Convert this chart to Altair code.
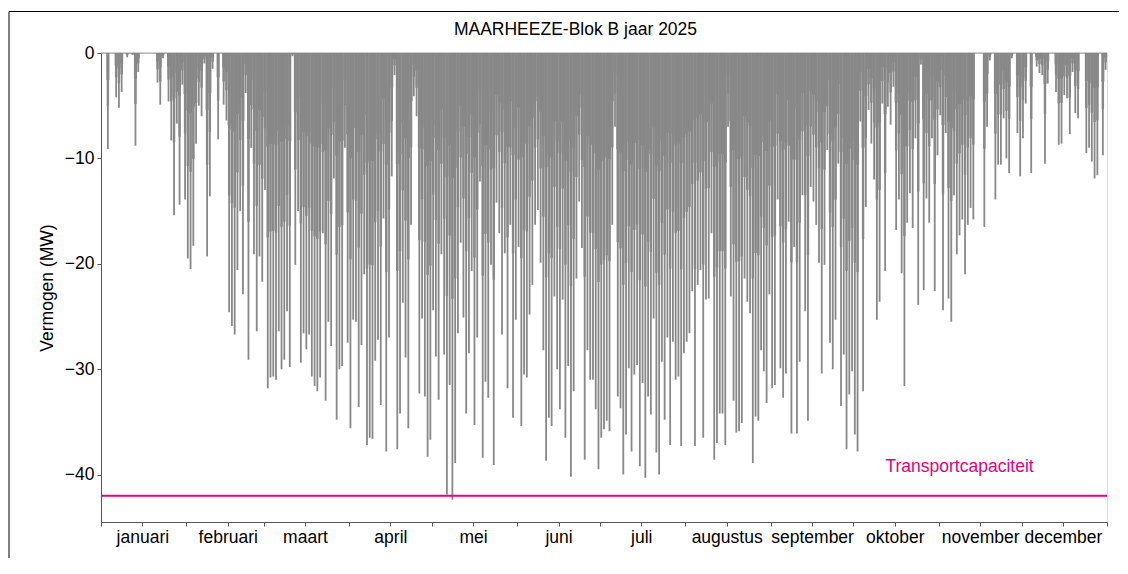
import altair as alt
import pandas as pd

# Daily deepest power value (MW), per month
jan = [0, 0, -9.1, 0, 0, -4.2, -5.2, -3.7, 0, -0.4, 0, -0.2, -8.8, -1.8, 0, 0, 0, 0, 0, 0,
       -2.8, -4.9, -0.5, 0, -4.6, -8.3, -15.4, -6.7, -14.4, -3.0, -13.9]
feb = [-19.5, -20.5, -18.3, -8.6, -5.0, -6.0, -1.0, -19.3, -13.6, -1.5, 0, -8.2, 0, -4.9,
       -6.4, -24.6, -25.9, -26.7, -20.6, -15.0, -22.9, -3.8, -29.1, -9.0, -19.1, -26.4, -19.3, -21.7]
mar = [-13.0, -31.8, -30.8, -30.7, -31.0, -26.4, -30.0, -29.1, -24.5, -29.8, -0.3, -20.1,
       -15.0, -29.4, -26.6, -28.1, -26.7, -30.7, -31.6, -32.1, -30.8, -17.1, -33.0, -25.5,
       -27.8, -11.9, -34.8, -30.0, -29.7, -9.0, -27.5]
apr = [-35.6, -25.3, -25.5, -33.6, -27.7, -21.0, -37.2, -36.5, -36.6, -29.2, -27.2, -33.4,
       -15.7, -37.8, -27.0, -11.7, -2.1, -37.6, -34.2, -23.7, -28.9, -35.6, -16.3, -4.1,
       -6.0, -32.3, -25.2, -32.6, -38.3, -36.7]
may = [-24.4, -28.8, -32.9, -19.1, -28.6, -41.9, -31.5, -42.4, -38.9, -26.6, -18.0, -25.1,
       -34.2, -28.5, -20.7, -35.3, -27.0, -12.2, -38.4, -31.2, -32.7, -20.1, -39.1, -14.2,
       -17.1, -26.7, -19.0, -31.8, -16.3, -34.6, -25.3]
jun = [-18.4, -35.4, -30.5, -30.8, -24.8, -22.0, -16.3, -14.9, -19.9, -28.2, -38.7, -34.6,
       -35.4, -23.1, -30.0, -33.8, -23.4, -36.5, -29.7, -40.2, -32.1, -21.4, -14.1, -18.5,
       -38.6, -28.2, -31.0, -31.0, -33.8, -39.5]
jul = [-36.5, -35.7, -34.9, -35.9, -16.3, -7.0, -32.6, -33.7, -40.0, -36.2, -29.9, -37.8,
       -30.5, -29.6, -39.2, -31.3, -40.3, -32.6, -34.3, -25.2, -37.9, -40.0, -29.3, -34.8,
       -27.0, -37.2, -27.4, -31.0, -30.7, -37.3, -28.5]
aug = [-27.4, -26.6, -22.6, -37.3, -22.0, -20.6, -36.5, -23.4, -23.3, -17.1, -38.6, -37.0,
       -34.2, -34.2, -37.2, -7.0, -23.1, -33.0, -36.0, -35.9, -35.1, -21.4, -23.6, -24.7,
       -38.9, -34.5, -34.9, -28.2, -30.2, -33.2, -22.9]
sep = [-31.8, -31.5, -13.9, -29.9, -32.7, -30.4, -16.0, -36.1, -18.4, -36.1, -29.3, -13.5,
       -24.5, -34.9, -12.7, -14.1, -16.3, -19.9, -30.4, -20.1, -9.2, -27.5, -30.0, -25.3,
       -10.5, -33.5, -28.6, -37.6, -32.4, -30.2]
okt = [-36.2, -37.8, -6.5, -32.1, -14.6, -5.4, -8.6, -12.0, -25.3, -23.6, -4.8, -20.7,
       -5.1, -6.8, -3.2, -16.8, -13.9, -20.9, -31.6, -16.1, -13.3, -16.6, -8.1, -23.9,
       -1.1, -22.5, -13.8, -16.1, -8.1, -22.6, -9.7]
nov = [-5.9, -24.4, -7.6, -23.3, -25.5, -13.5, -19.1, -17.3, -15.8, -21.0, -16.3, -14.7,
       -15.8, 0, 0, 0, -16.5, -7.0, -0.7, 0, -13.9, -10.6, -10.6, -6.2, -10.0, -11.4,
       -0.5, 0, -7.6, -11.7]
dec = [-8.1, -4.8, 0, -11.4, 0, -1.3, -1.9, -2.1, -10.5, -2.9, 0, 0, -3.7, -8.7, -8.6,
       -4.0, -4.3, -7.7, -1.8, -5.7, -6.2, 0, 0, -9.5, -9.0, -10.3, -11.9, -11.6, 0, -9.7, -1.6]

month_names = ["januari", "februari", "maart", "april", "mei", "juni", "juli",
               "augustus", "september", "oktober", "november", "december"]
capacity = -42.0
title_text = "MAARHEEZE-Blok B jaar 2025"
capacity_label = "Transportcapaciteit"

months = [jan, feb, mar, apr, may, jun, jul, aug, sep, okt, nov, dec]
values = [v for m in months for v in m]
df = pd.DataFrame({"day": [i + 0.5 for i in range(len(values))], "mw": values})

starts = []
s = 0
for m in months:
    starts.append(s)
    s += len(m)
n_days = s
mids = [st + 15 for st in starts]
tick_values = sorted(starts + [n_days] + mids)

mid_js = "[" + ",".join(str(m) for m in mids) + "]"
names_js = "[" + ",".join("'" + n + "'" for n in month_names) + "]"
label_expr = f"indexof({mid_js}, datum.value) >= 0 ? {names_js}[indexof({mid_js}, datum.value)] : ''"

one = pd.DataFrame({"capacity": [capacity], "label": [capacity_label], "title": [title_text]})

GRAY = "#888888"
MAGENTA = "#E6007E"
FONT = "Liberation Sans"
FS = 17.5

x_scale = alt.Scale(domain=[0, n_days], nice=False, zero=False)
y_scale = alt.Scale(domain=[-44.5, 0], nice=False)

x_axis = alt.Axis(values=tick_values, labelExpr=label_expr, title=None, grid=False,
                  labelFontSize=FS, labelColor="#000", tickColor="#555", domainColor="#555",
                  tickSize=4, labelPadding=2, labelOverlap=False, labelFlush=False)
y_axis = alt.Axis(values=[-40, -30, -20, -10, 0], title="Vermogen (MW)", grid=False,
                  labelFontSize=FS, labelColor="#000", tickColor="#555", domainColor="#555",
                  tickSize=4, labelPadding=3, titleFontSize=FS, titleFontWeight="normal",
                  titleColor="#000", titlePadding=8)

base = alt.Chart(df)

# full-depth daily spike
spikes = base.mark_rule(color=GRAY, strokeWidth=1.8, strokeCap="butt").encode(
    x=alt.X("day:Q", scale=x_scale, axis=x_axis),
    y=alt.Y("mw:Q", scale=y_scale, axis=y_axis),
    y2=alt.datum(0),
)
# wider upper parts of each daily curve (spread over the daylight hours)
spike_mid = base.transform_calculate(part="datum.mw * 0.55").mark_rule(
    color=GRAY, strokeWidth=2.4, strokeCap="butt").encode(
    x=alt.X("day:Q", scale=x_scale),
    y=alt.Y("part:Q", scale=y_scale),
    y2=alt.datum(0),
)
spike_top = base.transform_calculate(part="datum.mw * 0.28").mark_rule(
    color=GRAY, strokeWidth=3.0, strokeCap="butt").encode(
    x=alt.X("day:Q", scale=x_scale),
    y=alt.Y("part:Q", scale=y_scale),
    y2=alt.datum(0),
)

zero_line = alt.Chart(one).mark_rule(color="#9a9a9a", strokeWidth=1).encode(
    x=alt.datum(0), x2=alt.datum(n_days), y=alt.datum(0)
)

cap_line = alt.Chart(one).mark_rule(color=MAGENTA, strokeWidth=2).encode(
    x=alt.datum(0), x2=alt.datum(n_days), y=alt.Y("capacity:Q")
)

cap_text = alt.Chart(one).mark_text(color=MAGENTA, fontSize=FS, font=FONT,
                                    align="center", baseline="middle").encode(
    x=alt.datum(311.5), y=alt.datum(-39.3), text="label:N"
)

title_mark = alt.Chart(one).mark_text(color="#000", fontSize=FS, font=FONT,
                                      align="center", baseline="middle").encode(
    x=alt.value(474.5), y=alt.value(-23), text="title:N"
)

frame_top = alt.Chart(one).mark_rule(color="#000", strokeWidth=1).encode(
    x=alt.value(-92), x2=alt.value(1018), y=alt.value(-41.5)
)
frame_left = alt.Chart(one).mark_rule(color="#000", strokeWidth=1).encode(
    x=alt.value(-92), y=alt.value(-41.5), y2=alt.value(505)
)

chart = alt.layer(zero_line, spike_top, spike_mid, spikes, cap_line, cap_text, title_mark,
                  frame_top, frame_left).properties(
    width=1006, height=469,
    padding={"left": 0, "top": 3, "right": 0, "bottom": 0},
).configure_view(stroke=None).configure(font=FONT).configure_axis(labelFont=FONT, titleFont=FONT)

chart.save("out.html", embed_options={"renderer": "svg", "actions": False})
